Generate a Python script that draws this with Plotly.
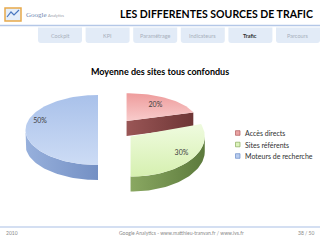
import math
import plotly.graph_objects as go

# ---------------- data ----------------
categories = ["Accès directs", "Sites référents", "Moteurs de recherche"]
values = [20, 30, 50]
pct_labels = ["20%", "30%", "50%"]
tabs = ["Cockpit", "KPI", "Paramétrage", "Indicateurs", "Trafic", "Parcours"]
active_tab = "Trafic"
title_text = "LES DIFFERENTES SOURCES DE TRAFIC"
subtitle_text = "Moyenne des sites tous confondus"
footer_left = "2010"
footer_center = "Google Analytics - www.matthieu-tranvan.fr / www.ivs.fr"
footer_right = "38 / 50"

# ---------------- style ----------------
FONT = "Lato"
top_scales = [
    [[0, "#f8cccc"], [1, "#ee9c9c"]],
    [[0, "#d6f0b0"], [1, "#effbdf"]],
    [[0, "#cddcf5"], [1, "#a9c1ea"]],
]
side_scales = [
    [[0, "#9a5656"], [1, "#6e3636"]],
    [[0, "#8aa862"], [1, "#5c7a3c"]],
    [[0, "#97b0dc"], [1, "#7490c4"]],
]
legend_fill = ["#eaa3a3", "#dcf3bd", "#b9cdee"]
legend_line = ["#b05a5a", "#8aaa5c", "#6a8cc8"]
CX, CY, RX, RY, DEPTH = 116, 130, 72.5, 35, 15
EX, EY = 18, 11
PX, PY = 0.04, 0.25          # perspective: slices pulled back look smaller
label_geom = [(0.7, 0), (0.8, -5), (0.84, 18)]

fig = go.Figure()


def add_poly(xs, ys, scale, orient):
    fig.add_trace(go.Scatter(
        x=xs + [xs[0]], y=ys + [ys[0]], mode="lines", fill="toself",
        line=dict(width=0), fillgradient=dict(type=orient, colorscale=scale),
        hoverinfo="skip", showlegend=False))


total = float(sum(values))
geo = []
acc = 0.0
for i, v in enumerate(values):
    a0 = acc / total * 360.0
    a1 = (acc + v) / total * 360.0
    acc += v
    mid = math.radians((a0 + a1) / 2)
    ox = CX + EX * math.sin(mid)
    oy = CY - EY * math.cos(mid)
    rx = RX * (1 - PX * math.cos(mid))
    ry = RY * (1 - PY * math.cos(mid))
    geo.append((i, a0, a1, ox, oy, rx, ry))

labels_xy = []
for i, a0, a1, ox, oy, rx, ry in sorted(geo, key=lambda g: g[4]):
    def rim(th, dy=0.0):
        r = math.radians(th)
        return ox + rx * math.sin(r), oy - ry * math.cos(r) + dy

    n = max(8, int((a1 - a0) / 2))
    # cut faces
    for th, vis in ((a1, math.sin(math.radians(a1)) > 1e-6),
                    (a0, math.sin(math.radians(a0)) < -1e-6)):
        if vis:
            px, py = rim(th)
            add_poly([ox, px, px, ox], [oy, py, py + DEPTH, oy + DEPTH],
                     side_scales[i], "horizontal")
    # outer side wall
    s0, s1 = max(a0, 90.0), min(a1, 270.0)
    if s1 > s0:
        m = max(6, int((s1 - s0) / 2))
        ths = [s0 + (s1 - s0) * k / m for k in range(m + 1)]
        pts = [rim(t) for t in ths] + [rim(t, DEPTH) for t in reversed(ths)]
        add_poly([p[0] for p in pts], [p[1] for p in pts], side_scales[i], "horizontal")
    # top surface
    ths = [a0 + (a1 - a0) * k / n for k in range(n + 1)]
    pts = [(ox, oy)] + [rim(t) for t in ths]
    add_poly([p[0] for p in pts], [p[1] for p in pts], top_scales[i], "vertical")
    f, off = label_geom[i]
    lt = math.radians((a0 + a1) / 2 + off)
    labels_xy.append((i, ox + f * rx * math.sin(lt), oy - f * ry * math.cos(lt)))

labels_xy.sort()
fig.add_trace(go.Scatter(
    x=[p[1] for p in labels_xy], y=[p[2] for p in labels_xy], mode="text",
    text=pct_labels, textfont=dict(family=FONT, size=7, color="#404040"),
    hoverinfo="skip", showlegend=False))

shapes = []
ann = []

# header line / footer line
shapes.append(dict(type="line", x0=0, x1=320, y0=25.5, y1=25.5,
                   line=dict(color="#b4c7e7", width=1.5), layer="below"))
shapes.append(dict(type="line", x0=0, x1=320, y0=227, y1=227,
                   line=dict(color="#a9bfe6", width=1.2), layer="below"))

# tabs
for k, t in enumerate(tabs):
    x0 = 38 + k * 47.6
    x1 = x0 + 44
    y0, y1, r = 27.5, 43, 3
    path = (f"M{x0},{y0} L{x1},{y0} L{x1},{y1 - r} Q{x1},{y1} {x1 - r},{y1} "
            f"L{x0 + r},{y1} Q{x0},{y1} {x0},{y1 - r} Z")
    shapes.append(dict(type="path", path=path, fillcolor="#e2ebf7",
                       line=dict(width=0), layer="below"))
    ann.append(dict(x=(x0 + x1) / 2, y=35.5, text=(f"<b>{t}</b>" if t == active_tab else t),
                    font=dict(family=FONT, size=5.5,
                              color="#303030" if t == active_tab else "#a8b0bc")))

# logo
shapes.append(dict(type="rect", x0=5, x1=21, y0=8, y1=21,
                   fillcolor="#e4eefa", line=dict(color="#e8a94a", width=1.5)))
shapes.append(dict(type="path", path="M7,17 L11,12 L14,15 L19,10",
                   line=dict(color="#4a78c0", width=1.2)))
ann.append(dict(x=24, y=15, text="Google", xanchor="left",
                font=dict(family="Liberation Serif", size=7, color="#6d86b0")))
ann.append(dict(x=46, y=15.5, text="Analytics", xanchor="left",
                font=dict(family=FONT, size=4, color="#9aa0a8")))

# titles
ann.append(dict(x=315, y=14, text=f"<b>{title_text}</b>", xanchor="right",
                font=dict(family=FONT, size=10.5, color="#000000")))
ann.append(dict(x=159.5, y=71, text=f"<b>{subtitle_text}</b>",
                font=dict(family=FONT, size=9, color="#000000")))

# legend
leg_y = [133, 144.5, 156]
for i, c in enumerate(categories):
    shapes.append(dict(type="rect", x0=235.5, x1=240, y0=leg_y[i] - 2.3, y1=leg_y[i] + 2.3,
                       fillcolor=legend_fill[i], line=dict(color=legend_line[i], width=0.7)))
    ann.append(dict(x=242.5, y=leg_y[i], text=c, xanchor="left",
                    font=dict(family=FONT, size=7, color="#303030")))

# footer
ann.append(dict(x=4, y=233, text=footer_left, xanchor="left",
                font=dict(family=FONT, size=5, color="#8a8a8a")))
ann.append(dict(x=181, y=233, text=footer_center,
                font=dict(family=FONT, size=5, color="#8a8a8a")))
ann.append(dict(x=317, y=233, text=footer_right, xanchor="right",
                font=dict(family=FONT, size=5, color="#8a8a8a")))

for a in ann:
    a.update(xref="x", yref="y", showarrow=False, yanchor="middle")
    a.setdefault("xanchor", "center")

fig.update_layout(
    width=320, height=240, margin=dict(l=0, r=0, t=0, b=0),
    paper_bgcolor="white", plot_bgcolor="white", showlegend=False,
    xaxis=dict(range=[0, 320], visible=False, fixedrange=True),
    yaxis=dict(range=[240, 0], visible=False, fixedrange=True),
    shapes=shapes, annotations=ann,
)
fig.write_html("out.html", config={"displayModeBar": False})
